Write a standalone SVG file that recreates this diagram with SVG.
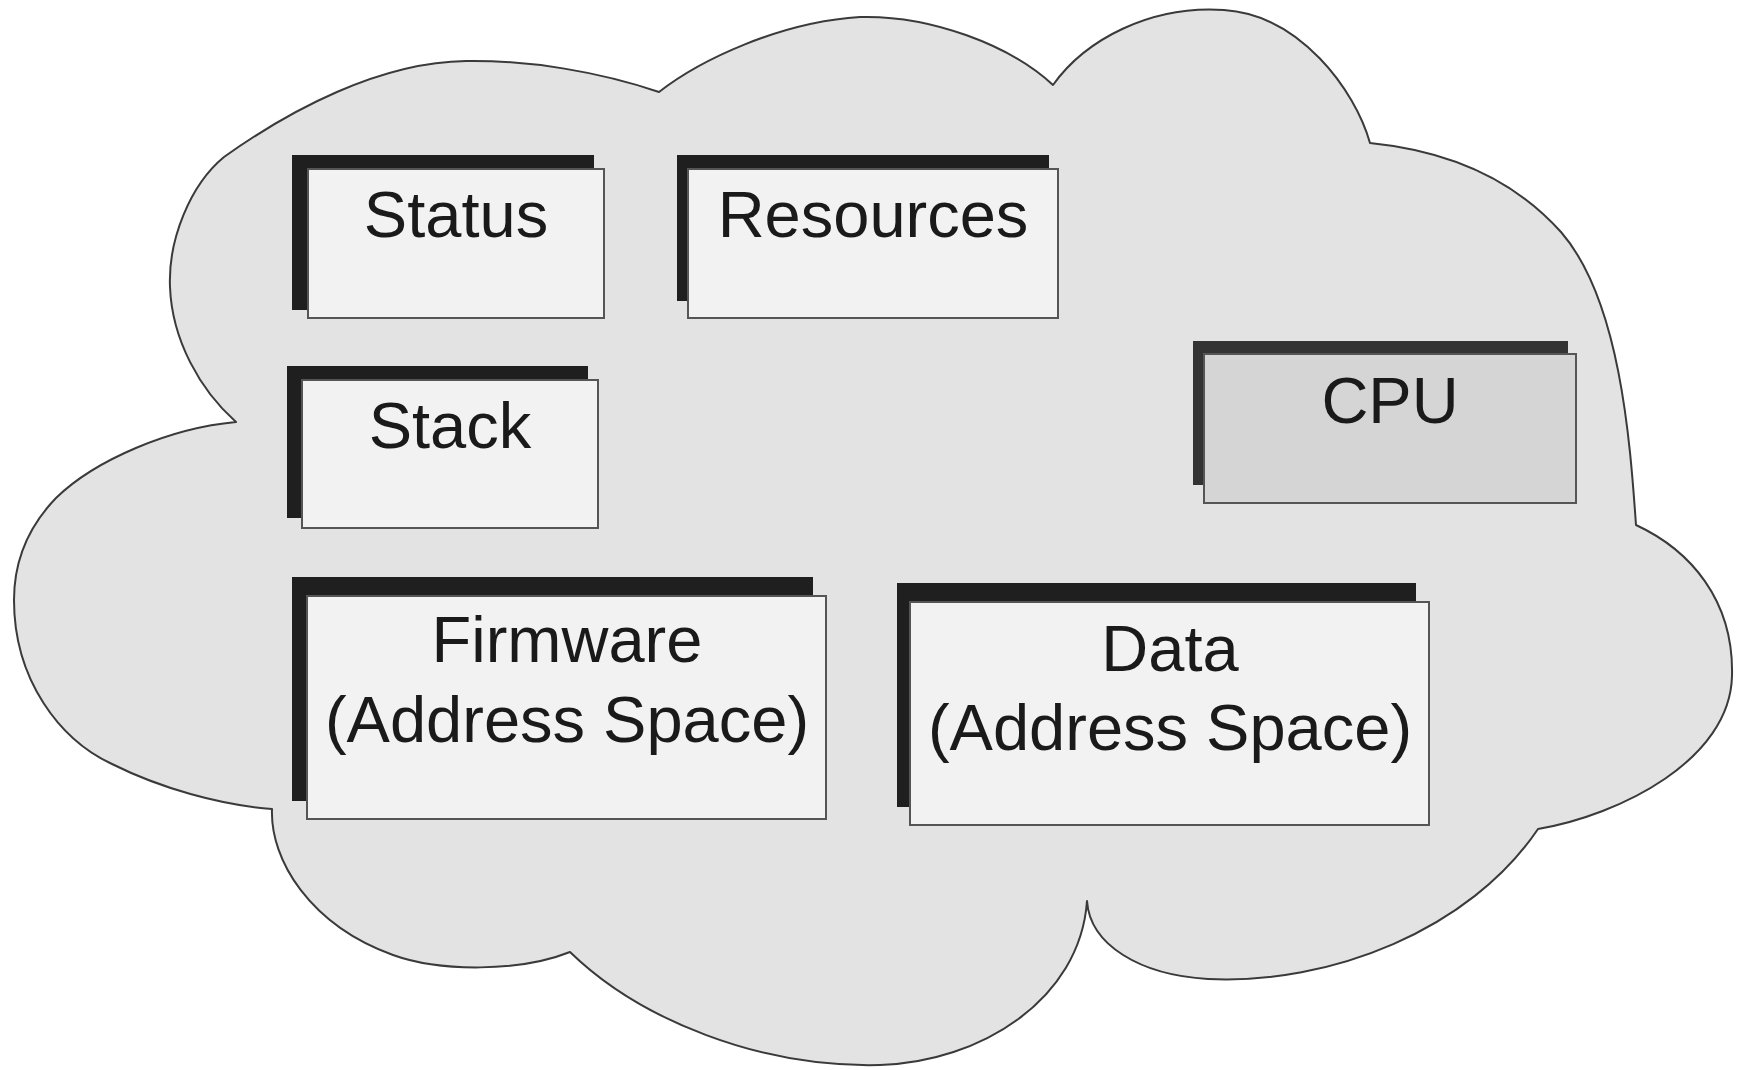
<svg xmlns="http://www.w3.org/2000/svg" width="1739" height="1070" viewBox="0 0 1739 1070">
  <style>
    .cloud { fill: #e3e3e3; stroke: #3a3a3a; stroke-width: 2; stroke-linejoin: round; }
    .back { fill: #1f1f1f; }
    .back-cpu { fill: #333333; }
    .front { fill: #f2f2f2; stroke: #555555; stroke-width: 2; }
    .front-cpu { fill: #d5d5d5; stroke: #555555; stroke-width: 2; }
    .label { font-family: "Liberation Sans", Arial, sans-serif; font-size: 65px; fill: #1a1a1a; text-anchor: middle; }
  </style>
  <rect width="1739" height="1070" fill="#ffffff"/>

  <!-- cloud outline enclosing the thread parts -->
  <path id="cloud" class="cloud" d="M659,92
    C600,72 530,60 466,61
    C380,62 290,110 224,157
    C190,185 168,240 170,287
    C172,340 200,390 236,422
    C170,428 95,460 56,498
    C30,525 14,560 14,600
    C14,680 60,740 112,764
    C160,788 220,805 272,809
    C270,860 310,925 393,955
    C440,972 520,972 570,952
    C640,1020 760,1068 880,1065
    C980,1062 1080,1000 1087,901
    C1090,945 1140,975 1208,979
    C1330,985 1470,930 1538,829
    C1620,815 1730,760 1732,676
    C1734,600 1690,550 1636,525
    C1630,440 1620,300 1561,232
    C1510,175 1440,150 1370,143
    C1355,90 1300,15 1224,10
    C1150,5 1085,40 1053,85
    C1010,45 930,15 860,17
    C780,22 700,60 659,92 Z"/>

  <g id="status">
    <rect class="back" x="292" y="155" width="302" height="155"/>
    <rect class="front" x="308" y="169" width="296" height="149"/>
    <text class="label" x="456" y="237">Status</text>
  </g>

  <g id="resources">
    <rect class="back" x="677" y="155" width="372" height="146"/>
    <rect class="front" x="688" y="169" width="370" height="149"/>
    <text class="label" x="873" y="237">Resources</text>
  </g>

  <g id="stack">
    <rect class="back" x="287" y="366" width="301" height="152"/>
    <rect class="front" x="302" y="380" width="296" height="148"/>
    <text class="label" x="450" y="448">Stack</text>
  </g>

  <g id="cpu">
    <rect class="back-cpu" x="1193" y="341" width="375" height="144"/>
    <rect class="front-cpu" x="1204" y="354" width="372" height="149"/>
    <text class="label" x="1390" y="423">CPU</text>
  </g>

  <g id="firmware">
    <rect class="back" x="292" y="577" width="521" height="224"/>
    <rect class="front" x="307" y="596" width="519" height="223"/>
    <text class="label" x="567" y="662">Firmware</text>
    <text class="label" x="567" y="742">(Address Space)</text>
  </g>

  <g id="data">
    <rect class="back" x="897" y="583" width="519" height="224"/>
    <rect class="front" x="910" y="602" width="519" height="223"/>
    <text class="label" x="1170" y="671">Data</text>
    <text class="label" x="1170" y="750">(Address Space)</text>
  </g>

  <!-- no connectors between these parts -->
  <g id="connectors"/>
</svg>
